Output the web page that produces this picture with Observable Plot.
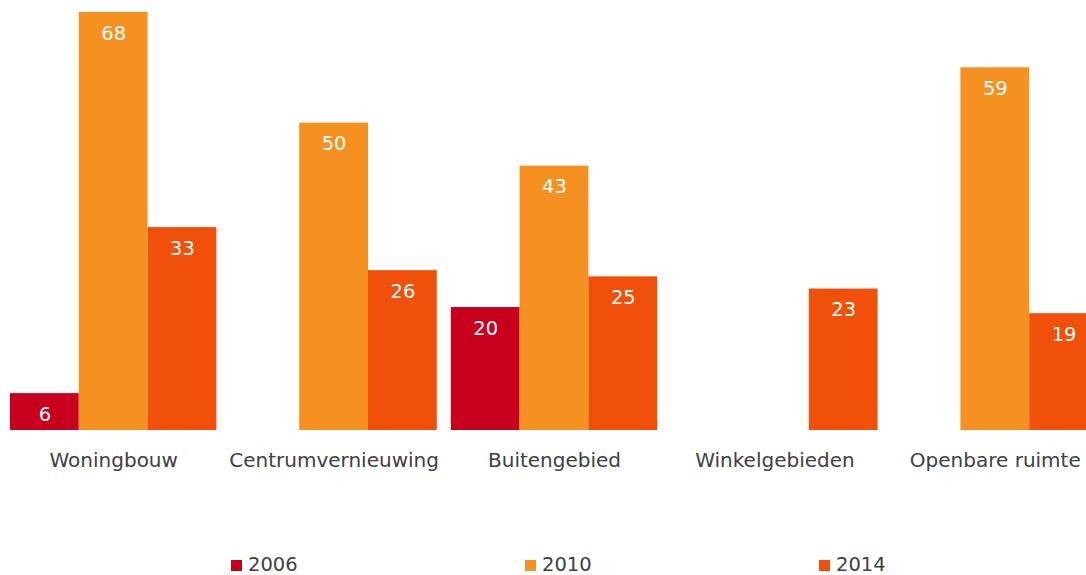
<!DOCTYPE html>
<html>
<head>
<meta charset="utf-8">
<script src="https://cdn.jsdelivr.net/npm/d3@7"></script>
<script src="https://cdn.jsdelivr.net/npm/@observablehq/plot@0.6"></script>
<style>
  html, body { margin: 0; padding: 0; background: #fff; overflow: hidden; width: 1086px; height: 575px; }
  #chart { position: absolute; left: 0; top: 0; }
  #legend { position: absolute; left: 0; top: 557px; width: 1086px; height: 16px; font-family: "DejaVu Sans", Verdana, sans-serif; font-size: 19.5px; line-height: 16px; color: #404040; }
  .item { position: absolute; top: 0; height: 16px; display: flex; align-items: center; }
  .sw { width: 11px; height: 11px; margin-right: 6px; }
</style>
</head>
<body>
<div id="chart"></div>
<div id="legend"></div>
<script>
const categories = ["Woningbouw", "Centrumvernieuwing", "Buitengebied", "Winkelgebieden", "Openbare ruimte"];
const years = ["2006", "2010", "2014"];
const colors = ["#C8001E", "#F59120", "#F0500A"];
const values2006 = [6, null, 20, null, null];
const values2010 = [68, 50, 43, null, 59];
const values2014 = [33, 26, 25, 23, 19];

const series = [values2006, values2010, values2014];
const data = [];
categories.forEach((c, i) => {
  years.forEach((y, j) => {
    const v = series[j][i];
    if (v != null) data.push({category: c, year: y, value: v});
  });
});

const chart = Plot.plot({
  width: 1086,
  height: 500,
  marginTop: 12,
  marginBottom: 70,
  marginLeft: 10,
  marginRight: 0,
  style: {fontFamily: '"DejaVu Sans", Verdana, sans-serif', overflow: "visible"},
  fx: {domain: categories, range: [10, 1098], paddingInner: 0.0636, paddingOuter: 0, round: false, label: null},
  x: {domain: years, padding: 0, round: false, axis: null},
  y: {domain: [0, 68], range: [430, 12], axis: null},
  color: {domain: years, range: colors},
  marks: [
    Plot.axisFx({anchor: "bottom", tickSize: 0, tickPadding: 22, fontSize: 20, fill: "#404040", label: null}),
    Plot.barY(data, {fx: "category", x: "year", y: "value", fill: "year"}),
    Plot.text(data, {fx: "category", x: "year", y: "value", text: d => String(d.value), dy: 21, fill: "white", fontSize: 19.5})
  ]
});
document.getElementById("chart").appendChild(chart);

const legend = document.getElementById("legend");
const legendX = [231, 525, 819];
years.forEach((y, i) => {
  const it = document.createElement("div");
  it.className = "item";
  it.style.left = legendX[i] + "px";
  const sw = document.createElement("div");
  sw.className = "sw";
  sw.style.background = colors[i];
  const t = document.createElement("span");
  t.textContent = y;
  it.appendChild(sw);
  it.appendChild(t);
  legend.appendChild(it);
});
</script>
</body>
</html>
